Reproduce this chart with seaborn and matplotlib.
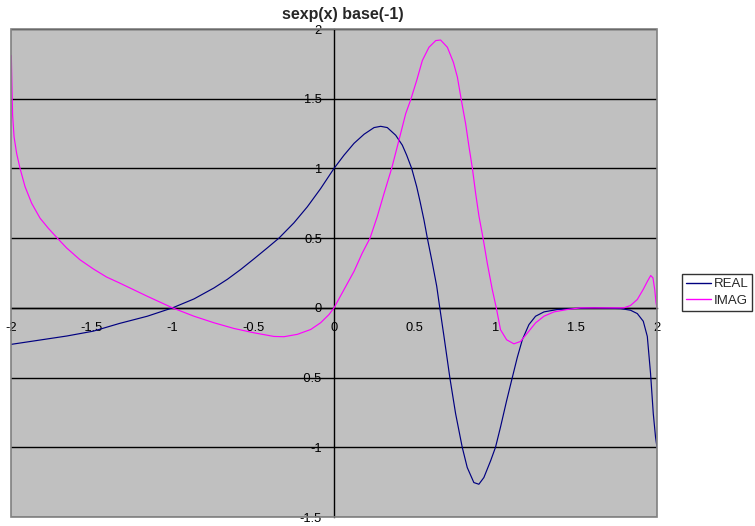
import matplotlib
matplotlib.use("Agg")
import matplotlib.pyplot as plt
import seaborn as sns
import pandas as pd
from matplotlib.patches import Rectangle

# ---- data ----
real_x = [-2.0, -1.862, -1.655, -1.49, -1.329, -1.156, -1.0, -0.867, -0.743, -0.66,
          -0.578, -0.495, -0.413, -0.341, -0.248, -0.165, -0.083, 0.0, 0.062, 0.124,
          0.186, 0.248, 0.289, 0.33, 0.382, 0.423, 0.45, 0.481, 0.512, 0.533,
          0.557, 0.578, 0.609, 0.636, 0.655, 0.681, 0.718, 0.753, 0.794, 0.825,
          0.866, 0.897, 0.928, 0.970, 1.0, 1.031, 1.069, 1.104, 1.135, 1.166,
          1.207, 1.248, 1.30, 1.382, 1.486, 1.61, 1.775, 1.836, 1.878, 1.915,
          1.94, 1.96, 1.977, 1.991, 2.0]
real_y = [-0.262, -0.238, -0.202, -0.167, -0.112, -0.06, 0.0, 0.064, 0.143, 0.205,
          0.275, 0.352, 0.43, 0.5, 0.61, 0.725, 0.855, 1.0, 1.095, 1.18,
          1.245, 1.293, 1.302, 1.293, 1.238, 1.167, 1.095, 1.0, 0.869, 0.762,
          0.631, 0.5, 0.321, 0.155, 0.0, -0.205, -0.506, -0.759, -1.0, -1.145,
          -1.253, -1.265, -1.217, -1.096, -1.0, -0.855, -0.665, -0.5, -0.355, -0.229,
          -0.120, -0.060, -0.029, -0.012, -0.005, 0.0, -0.005, -0.017, -0.041, -0.096,
          -0.205, -0.47, -0.759, -0.928, -1.0]

imag_x = [-1.998, -1.994, -1.99, -1.981, -1.965, -1.944, -1.913, -1.872, -1.82, -1.769,
          -1.713, -1.655, -1.573, -1.49, -1.408, -1.329, -1.156, -1.0, -0.867, -0.743,
          -0.619, -0.495, -0.372, -0.31, -0.227, -0.144, -0.083, -0.031, 0.0, 0.062,
          0.124, 0.175, 0.223, 0.268, 0.31, 0.357, 0.402, 0.444, 0.475, 0.512,
          0.547, 0.588, 0.630, 0.660, 0.702, 0.739, 0.764, 0.788, 0.815, 0.836,
          0.857, 0.877, 0.898, 0.923, 0.949, 0.98, 1.005, 1.031, 1.069, 1.114,
          1.155, 1.197, 1.248, 1.30, 1.362, 1.444, 1.527, 1.795, 1.836, 1.878,
          1.915, 1.941, 1.961, 1.975, 1.986, 1.994, 2.0]
imag_y = [1.81, 1.583, 1.381, 1.226, 1.107, 1.0, 0.869, 0.75, 0.643, 0.571,
          0.5, 0.429, 0.345, 0.279, 0.221, 0.179, 0.083, 0.0, -0.06, -0.107,
          -0.148, -0.179, -0.205, -0.207, -0.19, -0.155, -0.107, -0.048, 0.0, 0.131,
          0.262, 0.393, 0.5, 0.655, 0.821, 1.0, 1.202, 1.393, 1.493, 1.631,
          1.774, 1.869, 1.917, 1.921, 1.869, 1.762, 1.655, 1.493, 1.321, 1.155,
          1.0, 0.821, 0.655, 0.5, 0.321, 0.131, 0.0, -0.157, -0.229, -0.258,
          -0.241, -0.181, -0.108, -0.06, -0.029, -0.012, 0.0, 0.0, 0.017, 0.06,
          0.133, 0.191, 0.232, 0.215, 0.131, 0.036, 0.0]

series_names = ["REAL", "IMAG"]
series_colors = ["#000080", "#FF00FF"]
x_ticks = [-2, -1.5, -1, -0.5, 0, 0.5, 1, 1.5, 2]
y_ticks = [-1.5, -1, -0.5, 0, 0.5, 1, 1.5, 2]
title_text = "sexp(x) base(-1)"

df = pd.concat([
    pd.DataFrame({"x": real_x, "y": real_y, "series": series_names[0]}),
    pd.DataFrame({"x": imag_x, "y": imag_y, "series": series_names[1]}),
], ignore_index=True)

sns.set_style("white")
plt.rcParams["font.family"] = ["Liberation Sans", "DejaVu Sans"]

fig = plt.figure(figsize=(7.55, 5.26), dpi=100)
ax = fig.add_axes([11 / 755, 1 - 517 / 526, (657 - 11) / 755, (517 - 29) / 526])
ax.set_facecolor("#C0C0C0")

sns.lineplot(data=df, x="x", y="y", hue="series", hue_order=series_names,
             palette=dict(zip(series_names, series_colors)), estimator=None,
             sort=False, linewidth=0.85, ax=ax, legend=True)

ax.set_xlim(-2, 2)
ax.set_ylim(-1.5, 2)
ax.set_xticks(x_ticks)
ax.set_yticks(y_ticks)
ax.set_xticklabels([f"{t:g}" for t in x_ticks])
ax.set_yticklabels([f"{t:g}" for t in y_ticks])
ax.set_xlabel("")
ax.set_ylabel("")

ax.set_axisbelow(True)
ax.yaxis.grid(True, color="black", linewidth=1.0)
ax.xaxis.grid(False)

for side in ("top", "right"):
    ax.spines[side].set_visible(False)
ax.spines["left"].set_position(("data", 0))
ax.spines["bottom"].set_position(("data", 0))
for side in ("left", "bottom"):
    ax.spines[side].set_color("black")
    ax.spines[side].set_linewidth(1.0)
    ax.spines[side].set_zorder(1.5)

ax.tick_params(axis="both", direction="out", length=4, width=1, color="black",
               labelsize=9.3, labelcolor="black")
ax.tick_params(axis="x", pad=6)
ax.tick_params(axis="y", pad=4.7)

ax.add_patch(Rectangle((0, 0), 1, 1, transform=ax.transAxes, fill=False,
                       edgecolor="#808080", linewidth=1.2, clip_on=False, zorder=5))

fig.text(342.7 / 755, 1 - 14 / 526, title_text, ha="center", va="center",
         fontsize=11.5, fontweight="bold")

handles, labels = ax.get_legend_handles_labels()
leg = ax.legend(handles, labels, loc="center left",
                bbox_to_anchor=(682 / 755, 1 - 292.5 / 526),
                bbox_transform=fig.transFigure, frameon=True, fancybox=False,
                fontsize=9.5, handlelength=1.9, handletextpad=0.2,
                borderpad=0.3, labelspacing=0.36, borderaxespad=0)
leg.get_frame().set_edgecolor("black")
leg.get_frame().set_linewidth(1.0)
leg.get_frame().set_facecolor("white")
for line in leg.get_lines():
    line.set_linewidth(1.0)

fig.savefig("out.png", dpi=100)
